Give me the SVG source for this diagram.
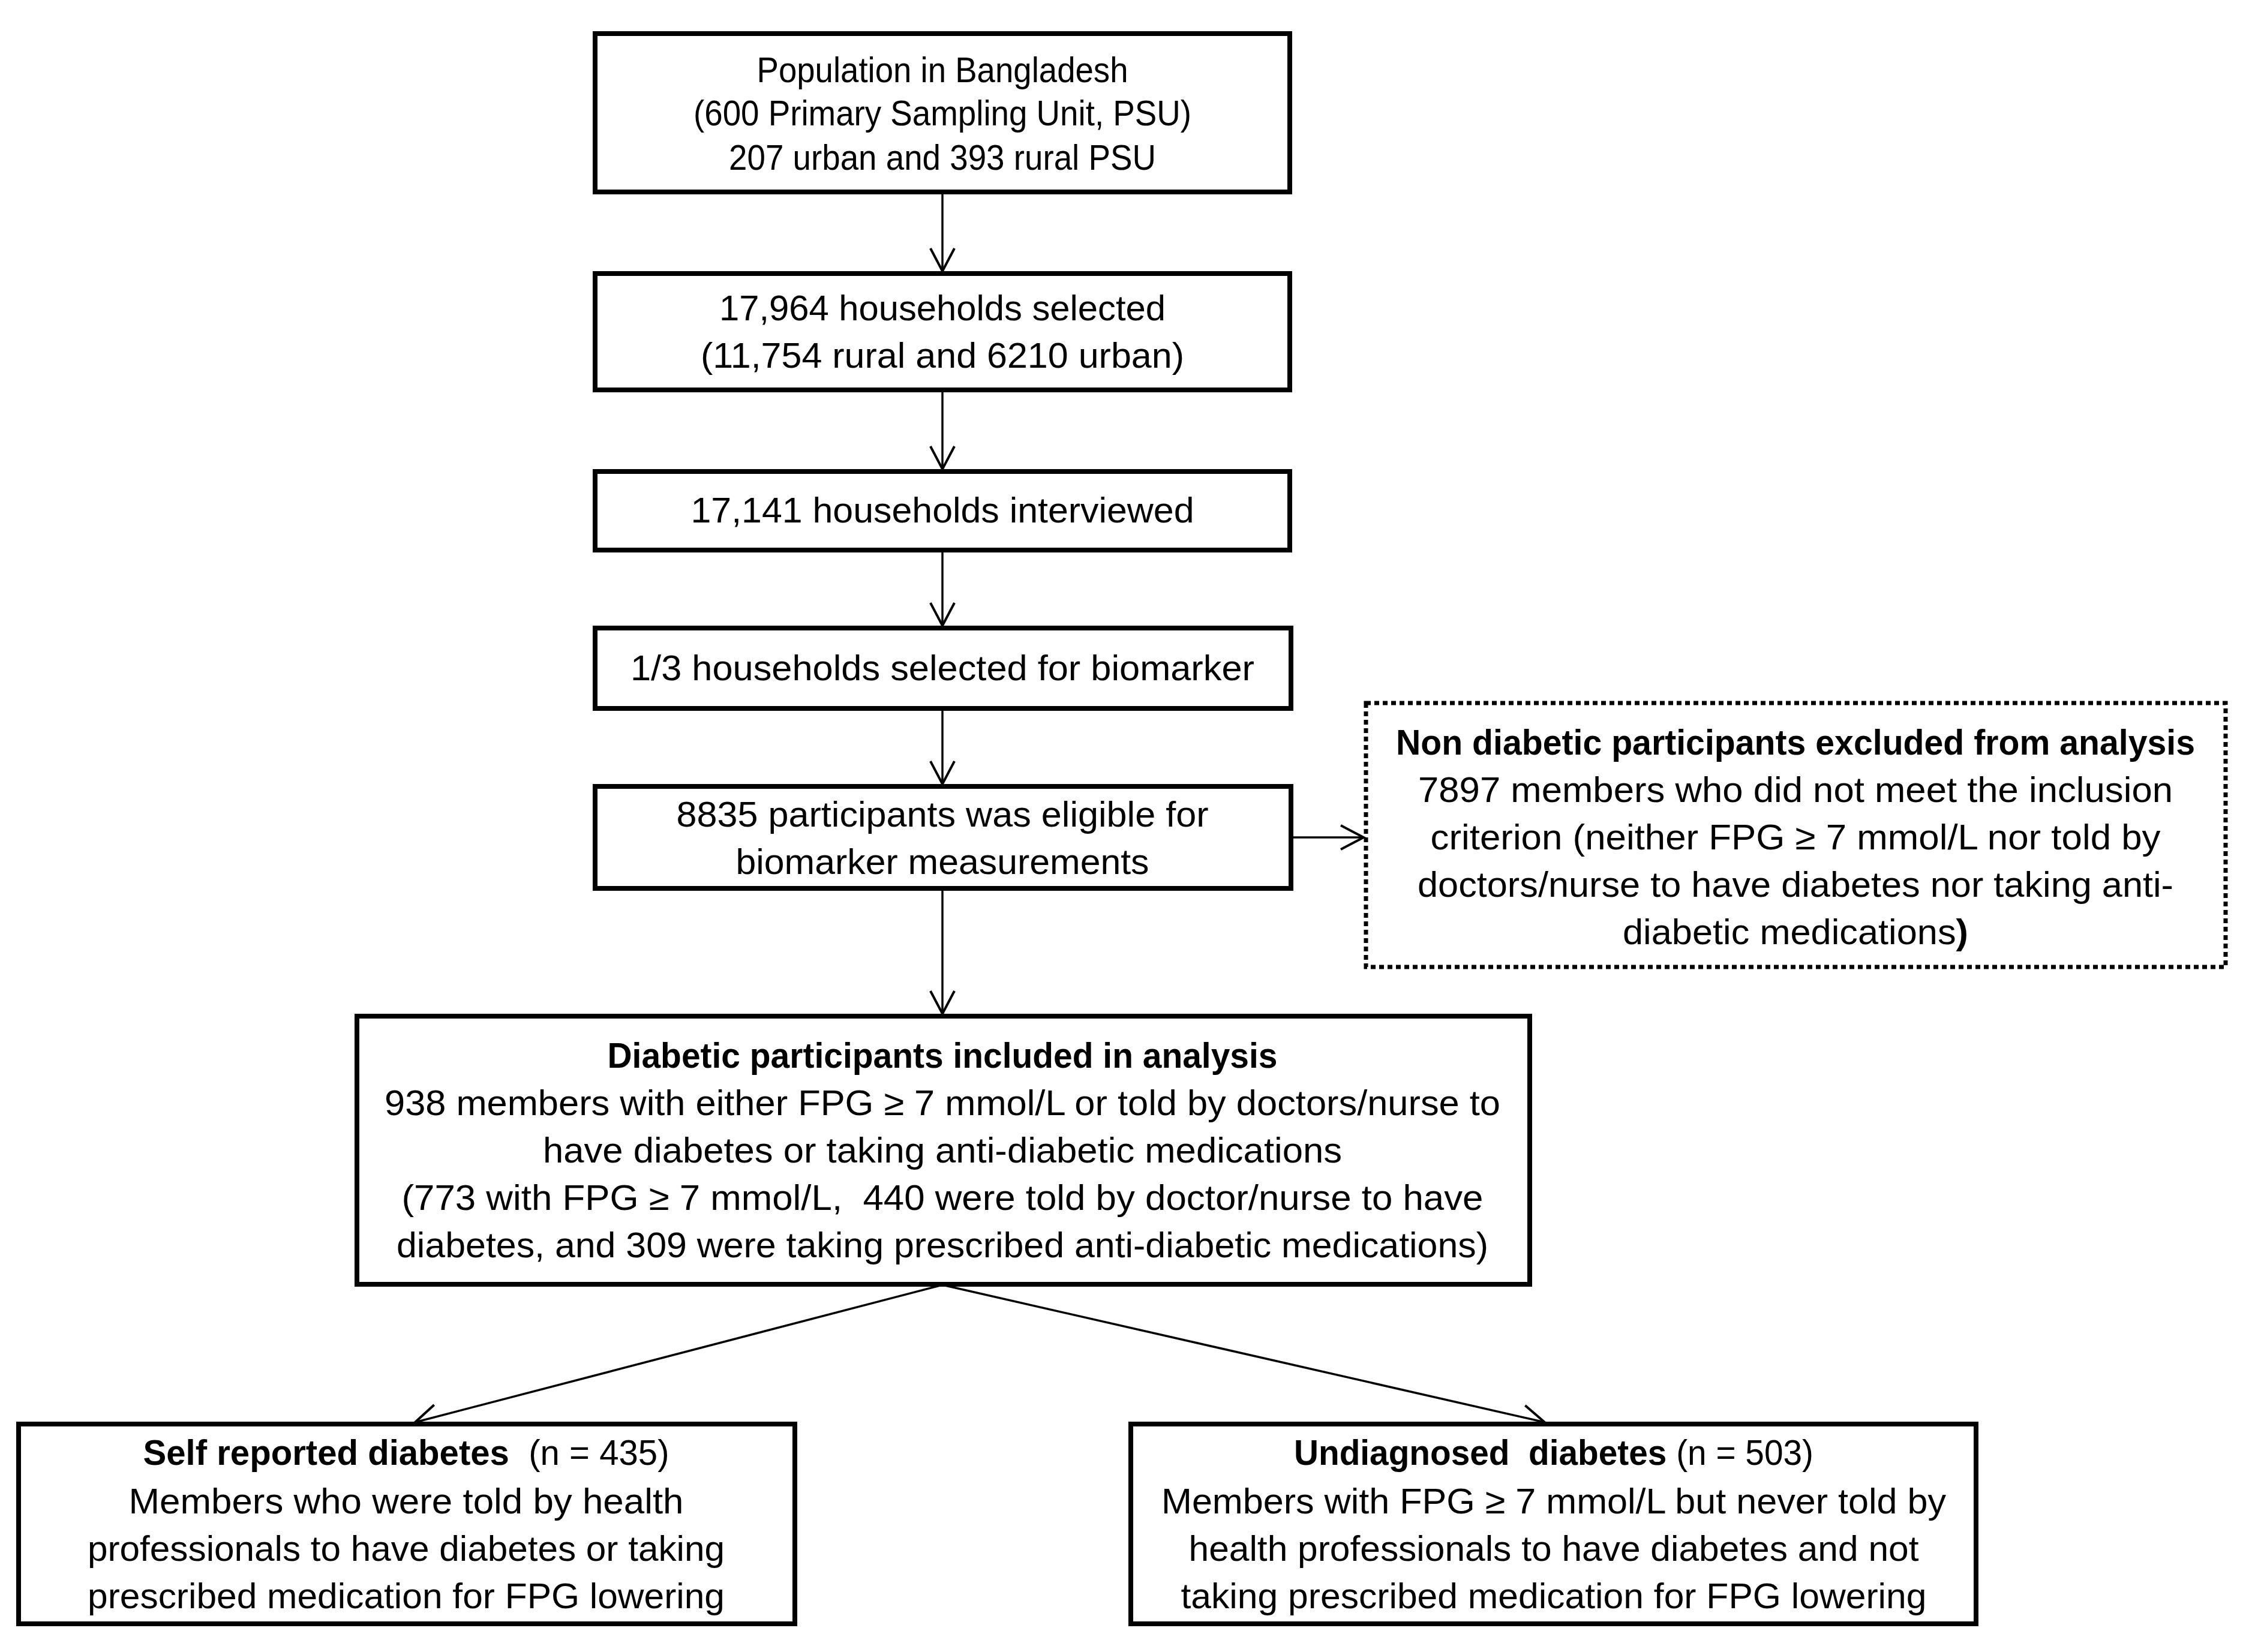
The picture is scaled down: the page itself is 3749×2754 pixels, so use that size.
<svg xmlns="http://www.w3.org/2000/svg" width="3749" height="2754" viewBox="0 0 3749 2754">
<style>
.box{fill:#fff;stroke:#000;stroke-width:8}
.dot{fill:#fff;stroke:#000;stroke-width:7;stroke-dasharray:8 6}
.t{font-family:"Liberation Sans",Arial,sans-serif;font-size:60px;fill:#000;text-anchor:middle}
.b{font-weight:bold}
.c{fill:none;stroke:#000;stroke-width:3.5}
</style>
<defs>
<marker id="ah" markerUnits="userSpaceOnUse" markerWidth="50" markerHeight="50" viewBox="0 0 50 50" refX="41" refY="22" orient="auto">
<path d="M3,2 L41,22 L3,42" fill="none" stroke="#000" stroke-width="4"/>
</marker>
</defs>
<rect width="3749" height="2754" fill="#fff"/>
<g id="connectors">
<line class="c" x1="1571" y1="320" x2="1571" y2="452" marker-end="url(#ah)"/>
<line class="c" x1="1571" y1="650" x2="1571" y2="782" marker-end="url(#ah)"/>
<line class="c" x1="1571" y1="917" x2="1571" y2="1043" marker-end="url(#ah)"/>
<line class="c" x1="1571" y1="1181" x2="1571" y2="1307" marker-end="url(#ah)"/>
<line class="c" x1="1571" y1="1481" x2="1571" y2="1690" marker-end="url(#ah)"/>
<line class="c" x1="2152" y1="1396" x2="2273" y2="1396" marker-end="url(#ah)"/>
<line class="c" x1="1571" y1="2142" x2="692" y2="2371" marker-end="url(#ah)"/>
<line class="c" x1="1571" y1="2142" x2="2575" y2="2371" marker-end="url(#ah)"/>
</g>
<g id="n1">
<rect class="box" x="992" y="56" width="1158" height="264"/>
<text class="t" x="1571" y="137" textLength="619" lengthAdjust="spacingAndGlyphs">Population in Bangladesh</text>
<text class="t" x="1571" y="209" textLength="830" lengthAdjust="spacingAndGlyphs">(600 Primary Sampling Unit, PSU)</text>
<text class="t" x="1571" y="283" textLength="712" lengthAdjust="spacingAndGlyphs">207 urban and 393 rural PSU</text>
</g>
<g id="n2">
<rect class="box" x="992" y="456" width="1158" height="194"/>
<text class="t" x="1571" y="534" textLength="744" lengthAdjust="spacingAndGlyphs">17,964 households selected</text>
<text class="t" x="1571" y="613" textLength="806" lengthAdjust="spacingAndGlyphs">(11,754 rural and 6210 urban)</text>
</g>
<g id="n3">
<rect class="box" x="992" y="786" width="1158" height="131"/>
<text class="t" x="1571" y="871" textLength="839" lengthAdjust="spacingAndGlyphs">17,141 households interviewed</text>
</g>
<g id="n4">
<rect class="box" x="992" y="1047" width="1160" height="134"/>
<text class="t" x="1571" y="1134" textLength="1040" lengthAdjust="spacingAndGlyphs">1/3 households selected for biomarker</text>
</g>
<g id="n5">
<rect class="box" x="992" y="1311" width="1160" height="170"/>
<text class="t" x="1571" y="1378" textLength="887" lengthAdjust="spacingAndGlyphs">8835 participants was eligible for</text>
<text class="t" x="1571" y="1457" textLength="689" lengthAdjust="spacingAndGlyphs">biomarker measurements</text>
</g>
<g id="n6">
<rect class="dot" x="2277" y="1172" width="1433" height="440"/>
<text class="t b" x="2993" y="1258" textLength="1332" lengthAdjust="spacingAndGlyphs">Non diabetic participants excluded from analysis</text>
<text class="t" x="2993" y="1337" textLength="1258" lengthAdjust="spacingAndGlyphs">7897 members who did not meet the inclusion</text>
<text class="t" x="2993" y="1416" textLength="1217" lengthAdjust="spacingAndGlyphs">criterion (neither FPG ≥ 7 mmol/L nor told by</text>
<text class="t" x="2993" y="1495" textLength="1260" lengthAdjust="spacingAndGlyphs">doctors/nurse to have diabetes nor taking anti-</text>
<text class="t" x="2993" y="1574" textLength="576" lengthAdjust="spacingAndGlyphs">diabetic medications<tspan class="b">)</tspan></text>
</g>
<g id="n7">
<rect class="box" x="595" y="1694" width="1955" height="447"/>
<text class="t b" x="1571" y="1780" textLength="1117" lengthAdjust="spacingAndGlyphs">Diabetic participants included in analysis</text>
<text class="t" x="1571" y="1859" textLength="1860" lengthAdjust="spacingAndGlyphs">938 members with either FPG ≥ 7 mmol/L or told by doctors/nurse to</text>
<text class="t" x="1571" y="1938" textLength="1332" lengthAdjust="spacingAndGlyphs">have diabetes or taking anti-diabetic medications</text>
<text class="t" x="1571" y="2017" textLength="1803" lengthAdjust="spacingAndGlyphs" xml:space="preserve">(773 with FPG ≥ 7 mmol/L,  440 were told by doctor/nurse to have</text>
<text class="t" x="1571" y="2096" textLength="1820" lengthAdjust="spacingAndGlyphs">diabetes, and 309 were taking prescribed anti-diabetic medications)</text>
</g>
<g id="n8">
<rect class="box" x="31" y="2374" width="1294" height="333"/>
<text class="t" x="677" y="2442" textLength="877" lengthAdjust="spacingAndGlyphs" xml:space="preserve"><tspan class="b">Self reported diabetes</tspan>  (n = 435)</text>
<text class="t" x="677" y="2523" textLength="925" lengthAdjust="spacingAndGlyphs">Members who were told by health</text>
<text class="t" x="677" y="2602" textLength="1062" lengthAdjust="spacingAndGlyphs">professionals to have diabetes or taking</text>
<text class="t" x="677" y="2681" textLength="1062" lengthAdjust="spacingAndGlyphs">prescribed medication for FPG lowering</text>
</g>
<g id="n9">
<rect class="box" x="1885" y="2374" width="1409" height="333"/>
<text class="t" x="2590" y="2442" textLength="866" lengthAdjust="spacingAndGlyphs" xml:space="preserve"><tspan class="b">Undiagnosed  diabetes</tspan> (n = 503)</text>
<text class="t" x="2590" y="2523" textLength="1308" lengthAdjust="spacingAndGlyphs">Members with FPG ≥ 7 mmol/L but never told by</text>
<text class="t" x="2590" y="2602" textLength="1217" lengthAdjust="spacingAndGlyphs">health professionals to have diabetes and not</text>
<text class="t" x="2590" y="2681" textLength="1243" lengthAdjust="spacingAndGlyphs">taking prescribed medication for FPG lowering</text>
</g>
</svg>
